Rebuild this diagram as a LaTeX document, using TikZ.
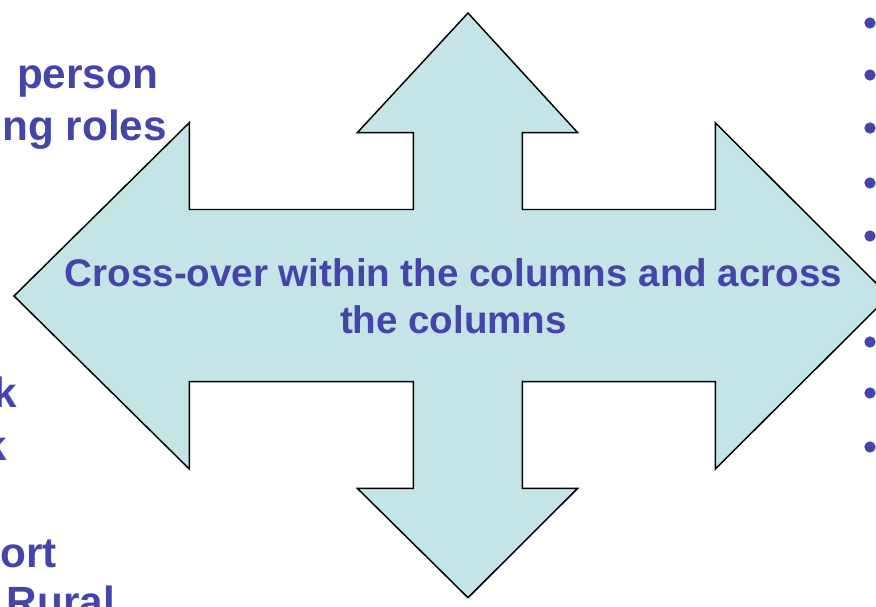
\documentclass[tikz,border=0pt]{standalone}
\usepackage{fontspec}
\setmainfont{Liberation Sans}
\definecolor{txtblue}{HTML}{4444AA}
\definecolor{arrowfill}{HTML}{C4E4E7}
\begin{document}
\begin{tikzpicture}[x=0.75pt,y=-0.75pt,
  lbl/.style={text=txtblue,font=\fontsize{28.9}{35.25}\selectfont\bfseries,inner sep=0pt,outer sep=0pt},
  side/.style={lbl,font=\fontsize{31.7}{39}\selectfont\bfseries,anchor=base east},
  bullet/.style={circle,fill=txtblue,minimum size=8.5pt,inner sep=0pt}]
\useasboundingbox (0,0) rectangle (876,607);
\clip (0,0) rectangle (876,607);
% four-way arrow
\draw[fill=arrowfill,line width=1.1pt,line join=miter]
  (468,13) -- (577.7,132.7) -- (522.3,132.7) -- (522.3,209.5) -- (715.3,209.5)
  -- (715.3,122.7) -- (889,296) -- (715.3,469) -- (715.3,381.7) -- (522.3,381.7)
  -- (522.3,488.3) -- (577.7,488.3) -- (468,597.7) -- (357.3,488.3) -- (413.3,488.3)
  -- (413.3,381.7) -- (189.3,381.7) -- (189.3,469) -- (14,296) -- (189.3,122.7)
  -- (189.3,209.5) -- (413.3,209.5) -- (413.3,132.7) -- (357.3,132.7) -- cycle;
% centre text
\node[lbl,align=center,anchor=base] (centre) at (453.5,333)
  {Cross-over within the columns and across\\the columns};
% clipped left column text
\node[side] (l1) at (158,88) {person};
\node[side] (l2) at (167,140) {ng roles};
\node[side] (l3) at (17,407) {k};
\node[side] (l4) at (7,460) {k};
\node[side] (l5) at (57,567) {ort};
\node[side] (l6) at (115,616) {Rural};
% right column bullets
\foreach \y [count=\i] in {23,75,128,183,236,342,393,447}
  \node[bullet] (b\i) at (870,\y) {};
\end{tikzpicture}
\end{document}
